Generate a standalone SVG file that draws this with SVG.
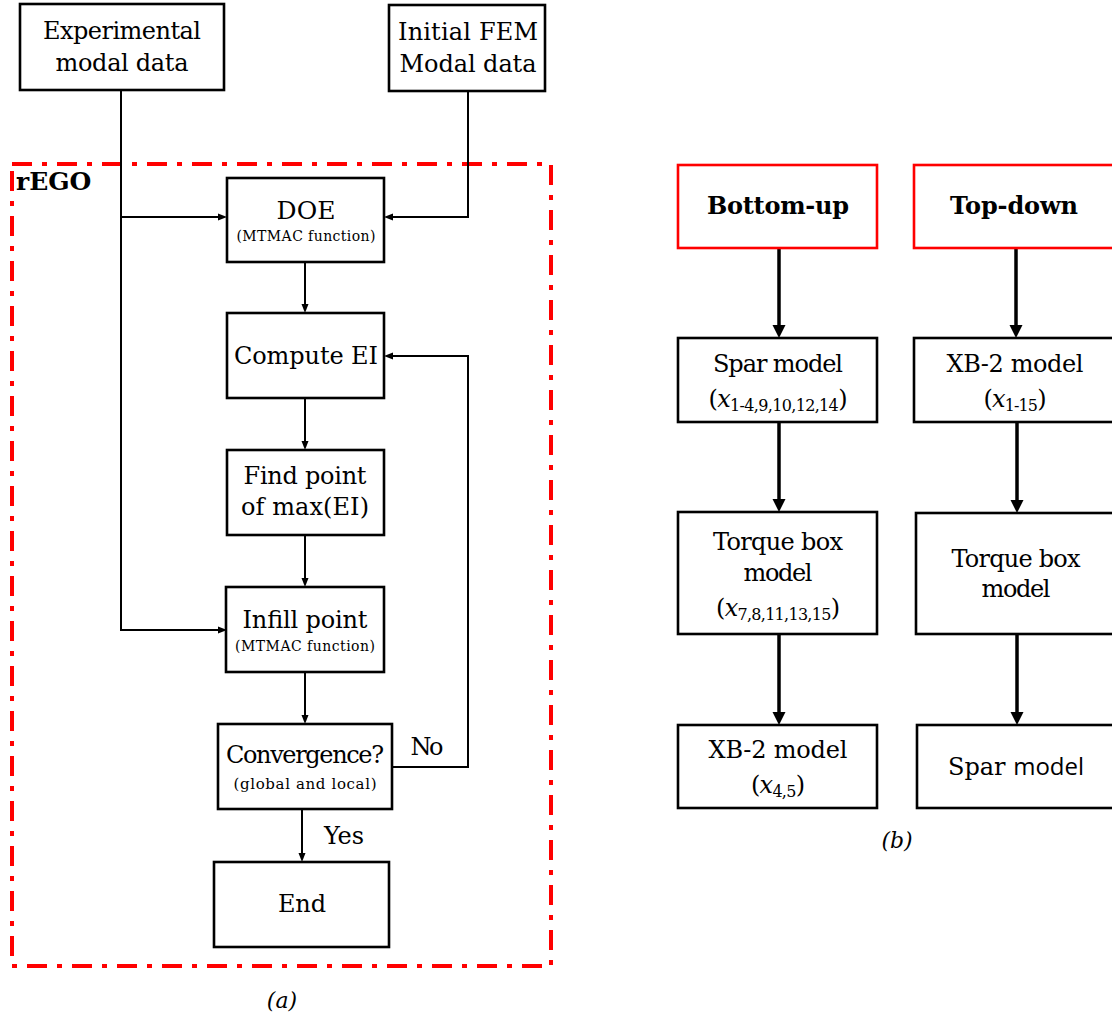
<svg xmlns="http://www.w3.org/2000/svg" width="1112" height="1019" viewBox="0 0 1112 1019">
<style>
.box{fill:#fff;stroke:#000;stroke-width:2.6}
.rbox{fill:#fff;stroke:#f00;stroke-width:2.6}
.t{font-family:"DejaVu Serif","Liberation Serif",serif;font-size:24px;fill:#000;text-anchor:middle}
.s{font-family:"DejaVu Serif","Liberation Serif",serif;font-size:14px;fill:#000;text-anchor:middle}
.b{font-family:"DejaVu Serif","Liberation Serif",serif;font-size:24px;font-weight:bold;fill:#000;text-anchor:middle}
.i{font-family:"DejaVu Serif","Liberation Serif",serif;font-size:22px;font-style:italic;fill:#000;text-anchor:middle}
.c{fill:none;stroke:#000;stroke-width:2}
.c2{fill:none;stroke:#000;stroke-width:3.5}
</style>
<defs>
<marker id="ah" markerWidth="10" markerHeight="8" refX="4" refY="4" orient="auto" markerUnits="userSpaceOnUse"><path d="M0,0.5 L9,4 L0,7.5 z" fill="#000"/></marker>
<marker id="ah2" markerWidth="14" markerHeight="14" refX="5" refY="7" orient="auto" markerUnits="userSpaceOnUse"><path d="M0,0.5 L13,7 L0,13.5 z" fill="#000"/></marker>
</defs>

<rect id="rego" x="12" y="164" width="539" height="802" fill="none" stroke="#f00" stroke-width="4" stroke-dasharray="20 10 5 10"/>
<text class="b" x="16" y="190" style="text-anchor:start;font-size:25px">rEGO</text>

<g id="connectors">
<polyline class="c" points="121,90 121,630 222,630" marker-end="url(#ah)"/>
<line class="c" x1="121" y1="217" x2="222" y2="217" marker-end="url(#ah)"/>
<polyline class="c" points="468,91 468,217 389,217" marker-end="url(#ah)"/>
<line class="c" x1="305" y1="262" x2="305" y2="308" marker-end="url(#ah)"/>
<line class="c" x1="305" y1="398" x2="305" y2="445" marker-end="url(#ah)"/>
<line class="c" x1="305" y1="535" x2="305" y2="582" marker-end="url(#ah)"/>
<line class="c" x1="305" y1="672" x2="305" y2="719" marker-end="url(#ah)"/>
<polyline class="c" points="392,767 468,767 468,356 389,356" marker-end="url(#ah)"/>
<line class="c" x1="302" y1="809" x2="302" y2="857" marker-end="url(#ah)"/>
<line class="c2" x1="779" y1="248" x2="779" y2="330" marker-end="url(#ah2)"/>
<line class="c2" x1="779" y1="422" x2="779" y2="504" marker-end="url(#ah2)"/>
<line class="c2" x1="779" y1="634" x2="779" y2="717" marker-end="url(#ah2)"/>
<line class="c2" x1="1016" y1="248" x2="1016" y2="330" marker-end="url(#ah2)"/>
<line class="c2" x1="1017" y1="422" x2="1017" y2="505" marker-end="url(#ah2)"/>
<line class="c2" x1="1017" y1="634" x2="1017" y2="717" marker-end="url(#ah2)"/>
</g>
<text class="t" x="427" y="755" textLength="33">No</text>
<text class="t" x="344" y="844" textLength="40">Yes</text>

<g id="exp">
<rect class="box" x="20" y="4" width="204" height="86"/>
<text class="t" x="122" y="39" textLength="158">Experimental</text>
<text class="t" x="122" y="71" textLength="133">modal data</text>
</g>
<g id="fem">
<rect class="box" x="389" y="5" width="156" height="86"/>
<text class="t" x="468" y="40" textLength="140">Initial FEM</text>
<text class="t" x="468" y="72" textLength="137">Modal data</text>
</g>
<g id="doe">
<rect class="box" x="227" y="178" width="157" height="84"/>
<text class="t" x="306" y="219" style="font-size:25px">DOE</text>
<text class="s" x="306" y="241" textLength="139">(MTMAC function)</text>
</g>
<g id="compute">
<rect class="box" x="227" y="313" width="157" height="85"/>
<text class="t" x="306" y="364" textLength="144">Compute EI</text>
</g>
<g id="find">
<rect class="box" x="227" y="450" width="157" height="85"/>
<text class="t" x="305" y="484" textLength="123">Find point</text>
<text class="t" x="305" y="515" textLength="128">of max(EI)</text>
</g>
<g id="infill">
<rect class="box" x="226" y="587" width="158" height="85"/>
<text class="t" x="305" y="628" textLength="125">Infill point</text>
<text class="s" x="305" y="651" textLength="140">(MTMAC function)</text>
</g>
<g id="conv">
<rect class="box" x="218" y="724" width="174" height="85"/>
<text class="t" x="305" y="763" textLength="158">Convergence?</text>
<text class="s" x="305" y="789" style="font-size:15px" textLength="143">(global and local)</text>
</g>
<g id="end">
<rect class="box" x="214" y="862" width="175" height="85"/>
<text class="t" x="302" y="912" textLength="48">End</text>
</g>
<text class="i" x="282" y="1008">(a)</text>

<g id="bottomup">
<rect class="rbox" x="678" y="165" width="199" height="83"/>
<text class="b" x="778" y="214" textLength="142">Bottom-up</text>
</g>
<g id="topdown">
<rect class="rbox" x="914" y="165" width="201" height="83"/>
<text class="b" x="1014" y="214" textLength="128">Top-down</text>
</g>
<g id="sparL">
<rect class="box" x="678" y="338" width="199" height="84"/>
<text class="t" x="778" y="372" textLength="130">Spar model</text>
<text class="t" x="778" y="407" textLength="139">(<tspan font-style="italic">x</tspan><tspan font-size="16" dy="4">1-4,9,10,12,14</tspan><tspan dy="-4">)</tspan></text>
</g>
<g id="xbR">
<rect class="box" x="914" y="338" width="201" height="84"/>
<text class="t" x="1015" y="372" textLength="137">XB-2 model</text>
<text class="t" x="1015" y="407" textLength="63">(<tspan font-style="italic">x</tspan><tspan font-size="16" dy="4">1-15</tspan><tspan dy="-4">)</tspan></text>
</g>
<g id="torqueL">
<rect class="box" x="678" y="512" width="199" height="122"/>
<text class="t" x="778" y="550" textLength="130">Torque box</text>
<text class="t" x="778" y="581" textLength="69">model</text>
<text class="t" x="778" y="616" textLength="124">(<tspan font-style="italic">x</tspan><tspan font-size="16" dy="4">7,8,11,13,15</tspan><tspan dy="-4">)</tspan></text>
</g>
<g id="torqueR">
<rect class="box" x="916" y="513" width="199" height="121"/>
<text class="t" x="1016" y="567" textLength="129">Torque box</text>
<text class="t" x="1016" y="597" textLength="69">model</text>
</g>
<g id="xbL">
<rect class="box" x="678" y="725" width="199" height="83"/>
<text class="t" x="778" y="758" textLength="139">XB-2 model</text>
<text class="t" x="778" y="793" textLength="54">(<tspan font-style="italic">x</tspan><tspan font-size="16" dy="4">4,5</tspan><tspan dy="-4">)</tspan></text>
</g>
<g id="sparR">
<rect class="box" x="917" y="725" width="198" height="83"/>
<text class="t" x="1016" y="775">Spar <tspan font-family="'Open Sans','Liberation Sans',sans-serif" font-size="24">model</tspan></text>
</g>
<text class="i" x="897" y="848">(b)</text>
</svg>
